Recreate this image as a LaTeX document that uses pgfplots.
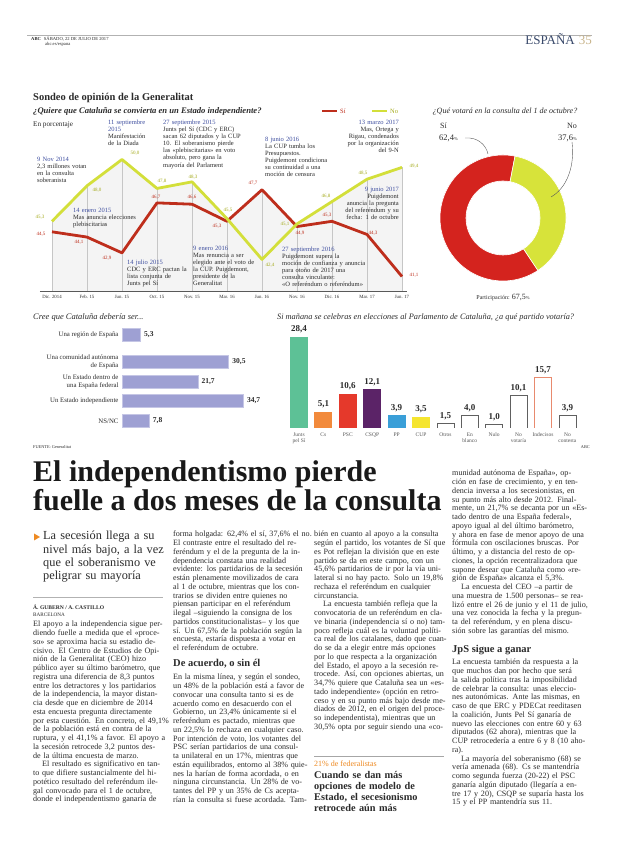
\documentclass[border=0pt]{standalone}
\usepackage{fontspec}
\setmainfont{Liberation Serif}
\usepackage{pgfplots}
\pgfplotsset{compat=1.18}
\usepackage{pgfplotstable}
\definecolor{sired}{HTML}{BE2E1C}
\definecolor{nogreen}{HTML}{D3DF3A}
\definecolor{nolab}{HTML}{A4AA1A}
\definecolor{annblue}{HTML}{3F4FA0}
\definecolor{txt}{HTML}{2B2B2B}
\definecolor{dred}{HTML}{D4231E}
\definecolor{dgreen}{HTML}{D7E33A}
\definecolor{lav}{HTML}{9EA0D3}
\definecolor{cJ}{HTML}{5DC196}
\definecolor{cCs}{HTML}{F28A3C}
\definecolor{cPSC}{HTML}{E5392B}
\definecolor{cCSQP}{HTML}{5B2367}
\definecolor{cPP}{HTML}{3A9FD8}
\definecolor{cCUP}{HTML}{F5E52F}
\definecolor{cInd}{HTML}{E88A6E}
\definecolor{orng}{HTML}{EE8A22}
\definecolor{espblue}{HTML}{3A4A6B}
\definecolor{tanc}{HTML}{C9B58C}
\newcommand{\fs}[2]{\fontsize{#1}{#2}\selectfont}
\newcommand{\JL}[1]{\makebox[\linewidth][s]{#1}\\}
\newcommand{\ind}{\hspace*{9pt}}
\newcommand{\bodyf}{\fs{8.1}{8.75}\color{txt}}
\newcommand{\annf}{\fs{6.5}{7.1}\color{txt}}
\newcommand{\dt}[1]{{\color{annblue}#1}}

\pgfplotstableread{
x si no
0 44.5 45.3
1 44.1 48.0
2 42.9 50.0
3 46.7 47.8
4 46.6 48.3
5 45.3 45.5
6 47.7 42.4
7 44.9 45.1
8 45.3 46.8
9 44.3 48.5
10 41.1 49.4
}\sondeo

\pgfmathsetmacro{\siang}{3.6*62.4}
\pgfmathsetmacro{\noang}{3.6*37.6}

\begin{document}
\begin{tikzpicture}
\fill[white] (0pt,0pt) rectangle (620pt,846pt);

% ======== axes (explicit pt units) ========
\begin{axis}[at={(39.75pt,555pt)}, anchor=south west, x=35pt, y=13.15pt,
  xmin=-0.35, xmax=10.15, ymin=40, ymax=50.7,
  axis x line=bottom, axis y line=none,
  x axis line style={-, gray!70!black, line width=0.9pt},
  xtick={0,...,10},
  xticklabels={Dic. 2014,Feb. 15,Jun. 15,Oct. 15,Nov. 15,Mar. 16,Jun. 16,Nov. 16,Dic. 16,Mar. 17,Jun. 17},
  major tick length=0pt,
  xticklabel style={font=\fs{4.8}{5}, text=txt, yshift=-1pt},
  clip mode=individual]
\addplot[fill=gray!9, draw=none] coordinates {(0,40) (0,45.3) (1,48.0) (2,50.0) (3,47.8) (4,48.3) (5,45.5) (6,47.7) (7,45.1) (8,46.8) (9,48.5) (10,49.4) (10,40)} -- cycle;
\addplot[gray!45, line width=0.5pt, unbounded coords=jump] coordinates {(0,40) (0,45.3) (0,nan) (1,40) (1,48.0) (1,nan) (2,40) (2,50.0) (2,nan) (3,40) (3,47.8) (3,nan) (4,40) (4,48.3) (4,nan) (5,40) (5,45.5) (5,nan) (6,40) (6,47.7) (6,nan) (7,40) (7,45.1) (7,nan) (8,40) (8,46.8) (8,nan) (9,40) (9,48.5) (9,nan) (10,40) (10,49.4)};
\addplot[sired, line width=2.8pt, line join=round] table[x=x,y=si]{\sondeo};
\addplot[nogreen, line width=2.8pt, line join=round] table[x=x,y=no]{\sondeo};
\node[font=\fs{5}{5}, text=nolab, xshift=-12pt, yshift=4pt] at (axis cs:0,45.3) {45,3};
\node[font=\fs{5}{5}, text=nolab, xshift=10pt, yshift=-4pt] at (axis cs:1,48.0) {48,0};
\node[font=\fs{5}{5}, text=nolab, xshift=13pt, yshift=6pt] at (axis cs:2,50.0) {50,0};
\node[font=\fs{5}{5}, text=nolab, xshift=5pt, yshift=7pt] at (axis cs:3,47.8) {47,8};
\node[font=\fs{5}{5}, text=nolab, xshift=1pt, yshift=5pt] at (axis cs:4,48.3) {48,3};
\node[font=\fs{5}{5}, text=nolab, xshift=1pt, yshift=8pt] at (axis cs:5,45.5) {45,5};
\node[font=\fs{5}{5}, text=nolab, xshift=8pt, yshift=-6pt] at (axis cs:6,42.4) {42,4};
\node[font=\fs{5}{5}, text=nolab, xshift=-12pt, yshift=0pt] at (axis cs:7,45.1) {45,1};
\node[font=\fs{5}{5}, text=nolab, xshift=-6pt, yshift=5pt] at (axis cs:8,46.8) {46,8};
\node[font=\fs{5}{5}, text=nolab, xshift=-4pt, yshift=6pt] at (axis cs:9,48.5) {48,5};
\node[font=\fs{5}{5}, text=nolab, anchor=west, xshift=4pt, yshift=1pt] at (axis cs:10,49.4) {49,4};
\node[font=\fs{5}{5}, text=sired, xshift=-11pt, yshift=-2pt] at (axis cs:0,44.5) {44,5};
\node[font=\fs{5}{5}, text=sired, xshift=-8pt, yshift=-5pt] at (axis cs:1,44.1) {44,1};
\node[font=\fs{5}{5}, text=sired, xshift=-15pt, yshift=-5pt] at (axis cs:2,42.9) {42,9};
\node[font=\fs{5}{5}, text=sired, xshift=-1pt, yshift=6pt] at (axis cs:3,46.7) {46,7};
\node[font=\fs{5}{5}, text=sired, xshift=0pt, yshift=7pt] at (axis cs:4,46.6) {46,6};
\node[font=\fs{5}{5}, text=sired, xshift=-10pt, yshift=-5pt] at (axis cs:5,45.3) {45,3};
\node[font=\fs{5}{5}, text=sired, xshift=-9pt, yshift=6pt] at (axis cs:6,47.7) {47,7};
\node[font=\fs{5}{5}, text=sired, xshift=3pt, yshift=-7pt] at (axis cs:7,44.9) {44,9};
\node[font=\fs{5}{5}, text=sired, xshift=-5pt, yshift=6pt] at (axis cs:8,45.3) {45,3};
\node[font=\fs{5}{5}, text=sired, xshift=6pt, yshift=1pt] at (axis cs:9,44.3) {44,3};
\node[font=\fs{5}{5}, text=sired, anchor=west, xshift=4pt, yshift=1pt] at (axis cs:10,41.1) {41,1};
\end{axis}

\begin{axis}[at={(433pt,558pt)}, anchor=south west, x=1pt, y=1pt, xmin=-70, xmax=70, ymin=-70, ymax=70, hide axis, clip=false]
\filldraw[fill=dred, draw=white, line width=0.6pt] (axis cs:{63*cos(79)},{63*sin(79)}) arc[start angle=79, end angle={79+\siang}, radius=63pt] -- (axis cs:{37*cos(79+\siang)},{37*sin(79+\siang)}) arc[start angle={79+\siang}, end angle=79, radius=37pt] -- cycle;
\filldraw[fill=dgreen, draw=white, line width=0.6pt] (axis cs:{63*cos(79)},{63*sin(79)}) arc[start angle=79, end angle={79-\noang}, radius=63pt] -- (axis cs:{37*cos(79-\noang)},{37*sin(79-\noang)}) arc[start angle={79-\noang}, end angle=79, radius=37pt] -- cycle;
\end{axis}

\begin{axis}[at={(122pt,410pt)}, anchor=south west, x=3.5pt, y=1pt,
  xmin=0, xmax=40, ymin=410, ymax=520,
  axis x line=none, axis y line=left, y axis line style={draw=none},
  major tick length=0pt,
  ytick={511,484,464,445,425},
  yticklabels={{Una región de España},{Una comunidad autónoma\\de España},{Un Estado dentro de\\una España federal},{Un Estado independiente},{NS/NC}},
  yticklabel style={align=right, font=\fs{6.8}{7.3}, text=txt},
  nodes near coords, point meta=x, every node near coord/.append style={font=\bfseries\fs{7.5}{8}, text=txt},
  /pgf/number format/use comma, /pgf/number format/fixed, /pgf/number format/fixed zerofill, /pgf/number format/precision=1, /pgf/number format/assume math mode=true]
\addplot[xbar, bar width=13pt, fill=lav, draw=lav!60!white, line width=0.6pt] coordinates {(5.3,511) (30.5,484) (21.7,464) (34.7,445) (7.8,425)};
\end{axis}

\begin{axis}[at={(286.8pt,418pt)}, anchor=south west, x=24.4pt, y=3.22pt,
  xmin=-0.5, xmax=11.5, ymin=0, ymax=32,
  axis x line=bottom, axis y line=none, x axis line style={draw=none},
  major tick length=0pt, xtick={0,...,11},
  xticklabels={{Junts\\pel Sí},Cs,PSC,CSQP,PP,CUP,Otros,{En\\blanco},Nulo,{No\\votaría},Indecisos,{No\\contesta}},
  xticklabel style={align=center, font=\fs{5.5}{6.5}, text=txt!80, yshift=-1pt},
  nodes near coords, every node near coord/.append style={font=\bfseries\fs{9}{10}, text=txt},
  /pgf/number format/use comma, /pgf/number format/fixed, /pgf/number format/fixed zerofill, /pgf/number format/precision=1, /pgf/number format/assume math mode=true]
\addplot[ybar, bar width=18pt, bar shift=0pt, fill=cJ, draw=none] coordinates {(0,28.4)};
\addplot[ybar, bar width=18pt, bar shift=0pt, fill=cCs, draw=none] coordinates {(1,5.1)};
\addplot[ybar, bar width=18pt, bar shift=0pt, fill=cPSC, draw=none] coordinates {(2,10.6)};
\addplot[ybar, bar width=18pt, bar shift=0pt, fill=cCSQP, draw=none] coordinates {(3,12.1)};
\addplot[ybar, bar width=18pt, bar shift=0pt, fill=cPP, draw=none] coordinates {(4,3.9)};
\addplot[ybar, bar width=18pt, bar shift=0pt, fill=cCUP, draw=none] coordinates {(5,3.5)};
\addplot[ybar, bar width=17pt, bar shift=0pt, fill=white, draw=gray!75!black, line width=0.7pt] coordinates {(6,1.5)};
\addplot[ybar, bar width=17pt, bar shift=0pt, fill=white, draw=gray!75!black, line width=0.7pt] coordinates {(7,4.0)};
\addplot[ybar, bar width=17pt, bar shift=0pt, fill=white, draw=gray!75!black, line width=0.7pt] coordinates {(8,1.0)};
\addplot[ybar, bar width=17pt, bar shift=0pt, fill=white, draw=gray!75!black, line width=0.7pt] coordinates {(9,10.1)};
\addplot[ybar, bar width=17pt, bar shift=0pt, fill=white, draw=cInd, line width=0.9pt] coordinates {(10,15.7)};
\addplot[ybar, bar width=17pt, bar shift=0pt, fill=white, draw=gray!75!black, line width=0.7pt] coordinates {(11,3.9)};
\end{axis}

\begin{scope}[x=1pt,y=1pt]
% ---------- header
\draw[gray!60, line width=0.8pt] (27,811) -- (592,811);
\node[anchor=base west, inner sep=0, font=\fs{4.6}{5}, text=txt] at (31,805) {\textbf{ABC}\hspace{3pt}SÁBADO, 22 DE JULIO DE 2017};
\node[anchor=base west, inner sep=0, font=\fs{4.6}{5}, text=txt] at (45,800) {abc.es/espana};
\node[anchor=base east, inner sep=0, font=\fs{13}{13}] at (592,801) {{\color{espblue}ESPAÑA}\hspace{4pt}{\color{tanc}35}};

% ---------- line chart titles
\node[anchor=base west, inner sep=0, font=\bfseries\fs{10.5}{11}, text=txt] at (33,745) {Sondeo de opinión de la Generalitat};
\node[anchor=base west, inner sep=0, font=\bfseries\itshape\fs{8.6}{9}, text=txt] at (33,732.5) {¿Quiere que Cataluña se convierta en un Estado independiente?};
\node[anchor=base west, inner sep=0, font=\fs{7.2}{8}, text=txt] at (33,719) {En porcentaje};
\draw[sired, line width=2.6pt] (322,735) -- (337,735);
\node[anchor=west, inner sep=0, font=\fs{6.5}{7}, text=sired] at (340,735) {Sí};
\draw[nogreen, line width=2.6pt] (372,735) -- (387,735);
\node[anchor=west, inner sep=0, font=\fs{6.5}{7}, text=nolab] at (390,735) {No};

% annotations
\node[anchor=base west, inner sep=0, text width=110pt, align=left, font=\annf] at (37,684.5) {\dt{9 Nov 2014}\\2,3 millones votan\\en la consulta\\soberanista};
\node[anchor=base west, inner sep=0, text width=110pt, align=left, font=\annf] at (108,721.5) {\dt{11 septiembre}\\\dt{2015}\\Manifestación\\de la Diada};
\node[anchor=base west, inner sep=0, text width=110pt, align=left, font=\annf] at (163,721.5) {\dt{27 septiembre 2015}\\Junts pel Sí (CDC y ERC)\\sacan 62 diputados y la CUP\\10. El soberanismo pierde\\las «plebiscitarias» en voto\\absoluto, pero gana la\\mayoría del Parlament};
\node[anchor=base west, inner sep=0, text width=110pt, align=left, font=\annf] at (73,633.5) {\dt{14 enero 2015}\\Mas anuncia elecciones\\plebiscitarias};
\node[anchor=base west, inner sep=0, text width=110pt, align=left, font=\annf] at (127,581.5) {\dt{14 julio 2015}\\CDC y ERC pactan la\\lista conjunta de\\Junts pel Sí};
\node[anchor=base west, inner sep=0, text width=110pt, align=left, font=\annf] at (193,595.5) {\dt{9 enero 2016}\\Mas renuncia a ser\\elegido ante el voto de\\la CUP. Puigdemont,\\presidente de la\\Generalitat};
\node[anchor=base west, inner sep=0, text width=110pt, align=left, font=\annf] at (265,704.5) {\dt{8 junio 2016}\\La CUP tumba los\\Presupuestos.\\Puigdemont condiciona\\su continuidad a una\\moción de censura};
\node[anchor=base east, inner sep=0, text width=90pt, align=right, font=\annf] at (399,721.5) {\dt{13 marzo 2017}\\Mas, Ortega y\\Rigau, condenados\\por la organización\\del 9-N};
\node[anchor=base east, inner sep=0, text width=90pt, align=right, font=\annf] at (399,654.5) {\dt{9 junio 2017}\\Puigdemont\\anuncia la pregunta\\del referéndum y su\\fecha: 1 de octubre};
\node[anchor=base west, inner sep=0, text width=110pt, align=left, font=\annf] at (282,594.5) {\dt{27 septiembre 2016}\\Puigdemont supera la\\moción de confianza y anuncia\\para otoño de 2017 una\\consulta vinculante:\\«O referéndum o referéndum»};

% ---------- donut texts
\node[anchor=base, inner sep=0, font=\itshape\fs{8}{9}, text=txt] at (505,732.5) {¿Qué votará en la consulta del 1 de octubre?};
\node[anchor=base west, inner sep=0, font=\fs{8}{9}, text=txt] at (440,717) {Sí};
\node[anchor=base west, inner sep=0, font=\fs{8.5}{9}, text=txt] at (439,705) {62,4{\fs{4.5}{5}\%}};
\node[anchor=base east, inner sep=0, font=\fs{8}{9}, text=txt] at (577,717) {No};
\node[anchor=base east, inner sep=0, font=\fs{8.5}{9}, text=txt] at (577,705) {37,6{\fs{4.5}{5}\%}};
\draw[gray!70!black, line width=0.4pt] (465,708) .. controls (478,709) and (486,701) .. (488,692);
\draw[gray!70!black, line width=0.4pt] (572,704) .. controls (575,680) and (567,658) .. (551,649);
\node[anchor=base, inner sep=0, font=\fs{6}{7}, text=txt] at (503,546) {Participación: {\fs{8}{9}67,5}{\fs{4.5}{5}\%}};

% ---------- bar chart titles
\node[anchor=base west, inner sep=0, font=\itshape\fs{8.5}{9}, text=txt] at (33,526) {Cree que Cataluña debería ser...};
\node[anchor=base west, inner sep=0, font=\itshape\fs{8.3}{9}, text=txt] at (277,526) {Si mañana se celebras en elecciones al Parlamento de Cataluña, ¿a qué partido votaría?};
\node[anchor=base west, inner sep=0, font=\fs{4.3}{5}, text=txt] at (33,397) {FUENTE: Generalitat};
\node[anchor=base east, inner sep=0, font=\fs{4.3}{5}, text=txt] at (590,397) {ABC};

% ---------- headline
\node[anchor=base west, inner sep=0, font=\bfseries\fs{30}{30}, text=black!90] at (33,364.5) {El independentismo pierde};
\node[anchor=base west, inner sep=0, font=\bfseries\fs{30}{30}, text=black!90] at (33,335.5) {fuelle a dos meses de la consulta};

% ---------- column 1
\fill[orng] (34,312.5) -- (34,305.5) -- (40,309) -- cycle;
\node[anchor=base west, inner sep=0, text width=125pt, align=left, font=\fs{12.3}{13.3}, text=txt] at (43,306) {La secesión llega a su\\nivel más bajo, a la vez\\que el soberanismo ve\\peligrar su mayoría};
\draw[gray!60, line width=0.6pt] (33,249) -- (163,249);
\node[anchor=base west, inner sep=0, font=\bfseries\fs{5.6}{6}, text=txt] at (33,236) {Á. GUBERN / A. CASTILLO};
\node[anchor=base west, inner sep=0, font=\fs{5.2}{6}, text=txt] at (33,229) {BARCELONA};
\node[anchor=base west, inner sep=0, text width=130pt, align=left, font=\bodyf] at (33,219) {%
\JL{El apoyo a la independencia sigue per-}
\JL{diendo fuelle a medida que el «proce-}
\JL{so» se aproxima hacia su estadio de-}
\JL{cisivo. El Centro de Estudios de Opi-}
\JL{nión de la Generalitat (CEO) hizo}
\JL{público ayer su último barómetro, que}
\JL{registra una diferencia de 8,3 puntos}
\JL{entre los detractores y los partidarios}
\JL{de la independencia, la mayor distan-}
\JL{cia desde que en diciembre de 2014}
\JL{esta encuesta pregunta directamente}
\JL{por esta cuestión. En concreto, el 49,1\%}
\JL{de la población está en contra de la}
\JL{ruptura, y el 41,1\% a favor. El apoyo a}
\JL{la secesión retrocede 3,2 puntos des-}
de la última encuesta de marzo.\\
\JL{\ind El resultado es significativo en tan-}
\JL{to que difiere sustancialmente del hi-}
\JL{potético resultado del referéndum ile-}
\JL{gal convocado para el 1 de octubre,}
\makebox[\linewidth][s]{donde el independentismo ganaría de}};

% ---------- column 2
\node[anchor=base west, inner sep=0, text width=133pt, align=left, font=\bodyf] at (173,309) {%
\JL{forma holgada: 62,4\% el sí, 37,6\% el no.}
\JL{El contraste entre el resultado del re-}
\JL{feréndum y el de la pregunta de la in-}
\JL{dependencia constata una realidad}
\JL{evidente: los partidarios de la secesión}
\JL{están plenamente movilizados de cara}
\JL{al 1 de octubre, mientras que los con-}
\JL{trarios se dividen entre quienes no}
\JL{piensan participar en el referéndum}
\JL{ilegal –siguiendo la consigna de los}
\JL{partidos constitucionalistas– y los que}
\JL{sí. Un 67,5\% de la población según la}
\JL{encuesta, estaría dispuesta a votar en}
el referéndum de octubre.};
\node[anchor=base west, inner sep=0, font=\bfseries\fs{10.5}{11}, text=txt] at (173,179) {De acuerdo, o sin él};
\node[anchor=base west, inner sep=0, text width=133pt, align=left, font=\bodyf] at (173,166) {%
\JL{En la misma línea, y según el sondeo,}
\JL{un 48\% de la población está a favor de}
\JL{convocar una consulta tanto si es de}
\JL{acuerdo como en desacuerdo con el}
\JL{Gobierno, un 23,4\% únicamente si el}
\JL{referéndum es pactado, mientras que}
\JL{un 22,5\% lo rechaza en cualquier caso.}
\JL{Por intención de voto, los votantes del}
\JL{PSC serían partidarios de una consul-}
\JL{ta unilateral en un 17\%, mientras que}
\JL{están equilibrados, entorno al 38\% quie-}
\JL{nes la harían de forma acordada, o en}
\JL{ninguna circunstancia. Un 28\% de vo-}
\JL{tantes del PP y un 35\% de Cs acepta-}
\makebox[\linewidth][s]{rían la consulta si fuese acordada. Tam-}};

% ---------- column 3
\node[anchor=base west, inner sep=0, text width=130pt, align=left, font=\bodyf] at (314,309) {%
\JL{bién en cuanto al apoyo a la consulta}
\JL{según el partido, los votantes de Sí que}
\JL{es Pot reflejan la división que en este}
\JL{partido se da en este campo, con un}
\JL{45,6\% partidarios de ir por la vía uni-}
\JL{lateral si no hay pacto. Solo un 19,8\%}
\JL{rechaza el referéndum en cualquier}
circunstancia.\\
\JL{\ind La encuesta también refleja que la}
\JL{convocatoria de un referéndum en cla-}
\JL{ve binaria (independencia sí o no) tam-}
\JL{poco refleja cuál es la voluntad políti-}
\JL{ca real de los catalanes, dado que cuan-}
\JL{do se da a elegir entre más opciones}
\JL{por lo que respecta a la organización}
\JL{del Estado, el apoyo a la secesión re-}
\JL{trocede. Así, con opciones abiertas, un}
\JL{34,7\% quiere que Cataluña sea un «es-}
\JL{tado independiente» (opción en retro-}
\JL{ceso y en su punto más bajo desde me-}
\JL{diados de 2012, en el origen del proce-}
\JL{so independentista), mientras que un}
\makebox[\linewidth][s]{30,5\% opta por seguir siendo una «co-}};
\draw[gray!70, line width=0.6pt] (314,90) -- (444,90);
\node[anchor=base west, inner sep=0, font=\fs{8}{9}, text=orng] at (314,79) {21\% de federalistas};
\node[anchor=base west, inner sep=0, text width=130pt, align=left, font=\bfseries\fs{10.3}{11}, text=txt] at (314,67) {Cuando se dan más\\opciones de modelo de\\Estado, el secesionismo\\retrocede aún más};

% ---------- column 4
\node[anchor=base west, inner sep=0, text width=134pt, align=left, font=\bodyf] at (452,370) {%
\JL{munidad autónoma de España», op-}
\JL{ción en fase de crecimiento, y en ten-}
\JL{dencia inversa a los secesionistas, en}
\JL{su punto más alto desde 2012. Final-}
\JL{mente, un 21,7\% se decanta por un «Es-}
\JL{tado dentro de una España federal»,}
\JL{apoyo igual al del último barómetro,}
\JL{y ahora en fase de menor apoyo de una}
\JL{fórmula con oscilaciones bruscas. Por}
\JL{último, y a distancia del resto de op-}
\JL{ciones, la opción recentralizadora que}
\JL{supone desear que Cataluña como «re-}
gión de España» alcanza el 5,3\%.\\
\JL{\ind La encuesta del CEO –a partir de}
\JL{una muestra de 1.500 personas– se rea-}
\JL{lizó entre el 26 de junio y el 11 de julio,}
\JL{una vez conocida la fecha y la pregun-}
\JL{ta del referéndum, y en plena discu-}
sión sobre las garantías del mismo.};
\node[anchor=base west, inner sep=0, font=\bfseries\fs{10.5}{11}, text=txt] at (452,193) {JpS sigue a ganar};
\node[anchor=base west, inner sep=0, text width=134pt, align=left, font=\bodyf] at (452,181) {%
\JL{La encuesta también da respuesta a la}
\JL{que muchos dan por hecho que será}
\JL{la salida política tras la imposibilidad}
\JL{de celebrar la consulta: unas eleccio-}
\JL{nes autonómicas. Ante las mismas, en}
\JL{caso de que ERC y PDECat reeditasen}
\JL{la coalición, Junts Pel Sí ganaría de}
\JL{nuevo las elecciones con entre 60 y 63}
\JL{diputados (62 ahora), mientras que la}
\JL{CUP retrocedería a entre 6 y 8 (10 aho-}
ra).\\
\JL{\ind La mayoría del soberanismo (68) se}
\JL{vería amenada (68). Cs se mantendría}
\JL{como segunda fuerza (20-22) el PSC}
\JL{ganaría algún diputado (llegaría a en-}
\JL{tre 17 y 20), CSQP se suparía hasta los}
15 y el PP mantendría sus 11.};
\end{scope}

\pgfresetboundingbox
\path[use as bounding box] (0pt,0pt) rectangle (620pt,846pt);
\end{tikzpicture}
\end{document}
